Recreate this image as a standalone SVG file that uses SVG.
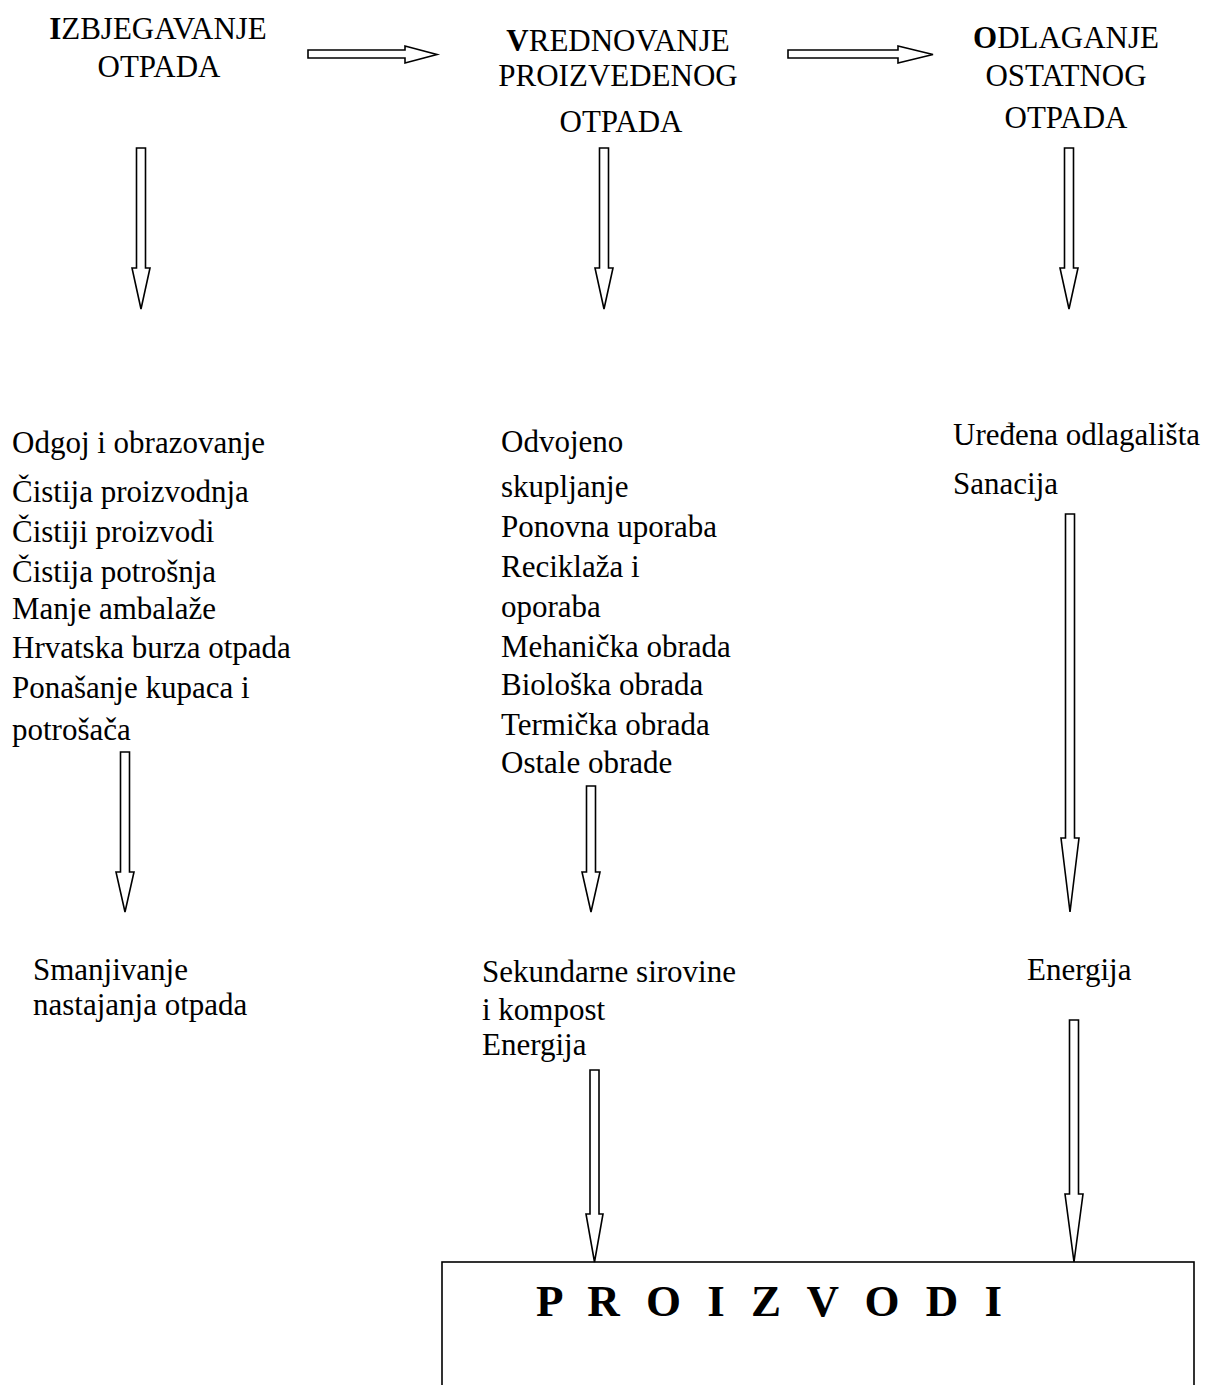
<svg xmlns="http://www.w3.org/2000/svg" width="1207" height="1385" viewBox="0 0 1207 1385">
<style>
text { font-family: "Liberation Serif", "Times New Roman", serif; font-size: 31px; fill: #000; }
.c { text-anchor: middle; }
.b { font-weight: bold; }
.arr { fill: #fff; stroke: #000; stroke-width: 1.6; stroke-linejoin: miter; }
.box { fill: #fff; stroke: #000; stroke-width: 1.6; }
.big { font-weight: bold; font-size: 45px; letter-spacing: 7.5px; }
</style>
<rect width="1207" height="1385" fill="#fff"/>

<g id="node-izbjegavanje">
<text class="c" x="158" y="39"><tspan class="b">I</tspan>ZBJEGAVANJE</text>
<text class="c" x="159" y="77">OTPADA</text>
</g>
<g id="node-vrednovanje">
<text class="c" x="618" y="51"><tspan class="b">V</tspan>REDNOVANJE</text>
<text class="c" x="618" y="86">PROIZVEDENOG</text>
<text class="c" x="621" y="132">OTPADA</text>
</g>
<g id="node-odlaganje">
<text class="c" x="1066" y="48"><tspan class="b">O</tspan>DLAGANJE</text>
<text class="c" x="1066" y="86">OSTATNOG</text>
<text class="c" x="1066" y="128">OTPADA</text>
</g>

<g id="node-list-left">
<text x="12" y="453">Odgoj i obrazovanje</text>
<text x="12" y="502">Čistija proizvodnja</text>
<text x="12" y="542">Čistiji proizvodi</text>
<text x="12" y="582">Čistija potrošnja</text>
<text x="12" y="619">Manje ambalaže</text>
<text x="12" y="658">Hrvatska burza otpada</text>
<text x="12" y="698">Ponašanje kupaca i</text>
<text x="12" y="740">potrošača</text>
</g>
<g id="node-list-middle">
<text x="501" y="452">Odvojeno</text>
<text x="501" y="497">skupljanje</text>
<text x="501" y="537">Ponovna uporaba</text>
<text x="501" y="577">Reciklaža i</text>
<text x="501" y="617">oporaba</text>
<text x="501" y="657">Mehanička obrada</text>
<text x="501" y="695">Biološka obrada</text>
<text x="501" y="735">Termička obrada</text>
<text x="501" y="773">Ostale obrade</text>
</g>
<g id="node-list-right">
<text x="953" y="445">Uređena odlagališta</text>
<text x="953" y="494">Sanacija</text>
</g>

<g id="node-smanjivanje">
<text x="33" y="980">Smanjivanje</text>
<text x="33" y="1015">nastajanja otpada</text>
</g>
<g id="node-sekundarne">
<text x="482" y="982">Sekundarne sirovine</text>
<text x="482" y="1020">i kompost</text>
<text x="482" y="1055">Energija</text>
</g>
<g id="node-energija">
<text x="1027" y="980">Energija</text>
</g>

<g id="node-proizvodi">
<rect class="box" x="442" y="1262" width="752" height="140"/>
<text class="big" x="536" y="1316">P R O I Z V O D I</text>
</g>

<g id="connectors">
<polygon class="arr" points="308,50 405,50 405,46 437,54.5 405,63 405,58 308,58"/>
<polygon class="arr" points="788,50 898,50 898,46 933,54.5 898,63 898,58 788,58"/>

<polygon class="arr" points="136.5,148 145.5,148 145.5,268 150,268 141,309 132,268 136.5,268"/>
<polygon class="arr" points="599.5,148 608.5,148 608.5,268 613,268 604,309 595,268 599.5,268"/>
<polygon class="arr" points="1064.5,148 1073.5,148 1073.5,268 1078,268 1069,309 1060,268 1064.5,268"/>

<polygon class="arr" points="120.5,752 129.5,752 129.5,872 134,872 125,912 116,872 120.5,872"/>
<polygon class="arr" points="586.5,786 595.5,786 595.5,872 600,872 591,912 582,872 586.5,872"/>
<polygon class="arr" points="1065.5,514 1074.5,514 1074.5,838 1079,838 1070,912 1061,838 1065.5,838"/>

<polygon class="arr" points="590,1070 599,1070 599,1214 603,1214 594.5,1262 586,1214 590,1214"/>
<polygon class="arr" points="1069.5,1020 1078.5,1020 1078.5,1194 1083,1194 1074,1262 1065,1194 1069.5,1194"/>
</g>
</svg>
